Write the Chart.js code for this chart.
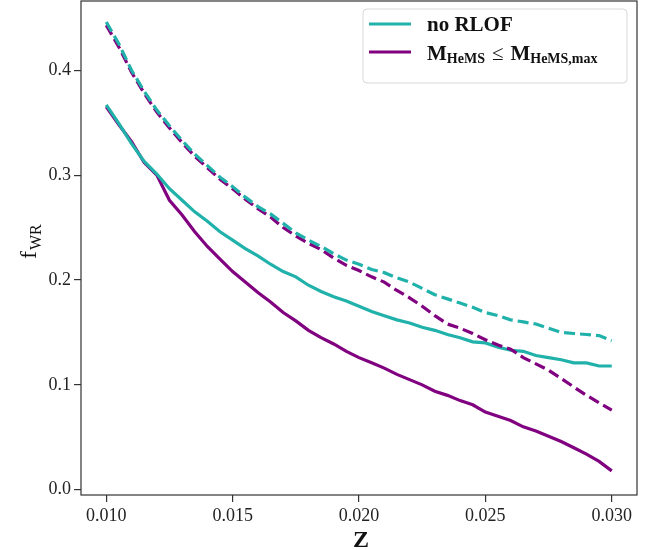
<!DOCTYPE html>
<html>
<head>
<meta charset="utf-8">
<script src="https://cdn.jsdelivr.net/npm/chart.js@4"></script>
<style>
  html, body { margin: 0; padding: 0; background: #fff; }
  #wrap { width: 662px; height: 550px; }
</style>
</head>
<body>
<div id="wrap"><canvas id="myChart" width="662" height="550"></canvas></div>
<script>
// metallicity grid
var zValues = [0.0100, 0.0105, 0.0110, 0.0115, 0.0120, 0.0125, 0.0130, 0.0135, 0.0140, 0.0145,
               0.0150, 0.0155, 0.0160, 0.0165, 0.0170, 0.0175, 0.0180, 0.0185, 0.0190, 0.0195,
               0.0200, 0.0205, 0.0210, 0.0215, 0.0220, 0.0225, 0.0230, 0.0235, 0.0240, 0.0245,
               0.0250, 0.0255, 0.0260, 0.0265, 0.0270, 0.0275, 0.0280, 0.0285, 0.0290, 0.0295, 0.0300];

// no RLOF, solid
var noRlofSolid = [0.367, 0.349, 0.330, 0.313, 0.301, 0.287, 0.276, 0.265, 0.256, 0.246,
                   0.238, 0.230, 0.223, 0.215, 0.208, 0.203, 0.195, 0.189, 0.184, 0.180,
                   0.175, 0.170, 0.166, 0.162, 0.159, 0.155, 0.152, 0.148, 0.145, 0.141,
                   0.140, 0.136, 0.133, 0.132, 0.128, 0.126, 0.124, 0.121, 0.121, 0.118, 0.118];
// M_HeMS <= M_HeMS,max, solid
var heMsSolid = [0.365, 0.348, 0.332, 0.312, 0.300, 0.276, 0.262, 0.246, 0.232, 0.220,
                 0.208, 0.198, 0.188, 0.179, 0.169, 0.161, 0.152, 0.145, 0.139, 0.132,
                 0.126, 0.121, 0.116, 0.110, 0.105, 0.100, 0.094, 0.090, 0.085, 0.081,
                 0.074, 0.070, 0.066, 0.060, 0.056, 0.051, 0.046, 0.040, 0.034, 0.027, 0.018];
// no RLOF, dashed
var noRlofDashed = [0.446, 0.425, 0.400, 0.380, 0.362, 0.347, 0.333, 0.320, 0.309, 0.298,
                    0.289, 0.279, 0.270, 0.263, 0.254, 0.245, 0.238, 0.232, 0.225, 0.219,
                    0.215, 0.210, 0.207, 0.202, 0.198, 0.192, 0.186, 0.182, 0.178, 0.174,
                    0.169, 0.166, 0.162, 0.160, 0.158, 0.154, 0.150, 0.149, 0.148, 0.147, 0.142];
// M_HeMS <= M_HeMS,max, dashed
var heMsDashed = [0.443, 0.422, 0.398, 0.378, 0.360, 0.345, 0.331, 0.318, 0.307, 0.296,
                  0.287, 0.277, 0.268, 0.260, 0.250, 0.242, 0.235, 0.229, 0.221, 0.214,
                  0.209, 0.203, 0.198, 0.190, 0.183, 0.175, 0.166, 0.158, 0.154, 0.149,
                  0.143, 0.138, 0.134, 0.126, 0.120, 0.114, 0.106, 0.098, 0.090, 0.083, 0.076];

var xTickValues = [0.010, 0.015, 0.020, 0.025, 0.030];
var yTickValues = [0.0, 0.1, 0.2, 0.3, 0.4];

var teal = '#20b2aa';
var purple = '#800080';
var serif = '"Liberation Serif", "DejaVu Serif", serif';

function pts(arr) {
    return zValues.map(function (z, i) { return { x: z, y: arr[i] }; });
}

// box around plot + legend + axis labels with subscripts
var decorations = {
    id: 'decorations',
    afterDraw: function (chart) {
        var c = chart.ctx, a = chart.chartArea;
        c.save();
        c.strokeStyle = '#333';
        c.lineWidth = 1.2;
        c.strokeRect(a.left, a.top, a.right - a.left, a.bottom - a.top);

        // legend box
        c.fillStyle = 'rgba(255,255,255,0.9)';
        c.strokeStyle = '#d8d8d8';
        c.lineWidth = 1;
        c.beginPath();
        c.roundRect(363, 9, 264, 74, 4);
        c.fill();
        c.stroke();

        c.lineWidth = 3.2;
        c.strokeStyle = teal;
        c.beginPath(); c.moveTo(369, 24); c.lineTo(411, 24); c.stroke();
        c.strokeStyle = purple;
        c.beginPath(); c.moveTo(369, 52); c.lineTo(411, 52); c.stroke();

        c.fillStyle = '#111';
        c.textBaseline = 'alphabetic';
        c.textAlign = 'left';
        c.font = 'bold 21px ' + serif;
        c.fillText('no RLOF', 427, 31);

        var x = 427, y = 60;
        c.font = 'bold 21px ' + serif;
        c.fillText('M', x, y); x += c.measureText('M').width;
        c.font = 'bold 14px ' + serif;
        c.fillText('HeMS', x, y + 3); x += c.measureText('HeMS').width + 7;
        c.font = '21px ' + serif;
        c.fillText('\u2264', x, y); x += c.measureText('\u2264').width + 7;
        c.font = 'bold 21px ' + serif;
        c.fillText('M', x, y); x += c.measureText('M').width;
        c.font = 'bold 14px ' + serif;
        c.fillText('HeMS,max', x, y + 3);

        // y label f_WR
        c.save();
        c.translate(36, 259);
        c.rotate(-Math.PI / 2);
        c.font = '24px ' + serif;
        c.fillText('f', 0, 0);
        var fw = c.measureText('f').width;
        c.font = '16px ' + serif;
        c.fillText('WR', fw + 1, 5);
        c.restore();

        // x label
        c.font = 'bold 24px ' + serif;
        c.textAlign = 'center';
        c.fillText('Z', (a.left + a.right) / 2 + 2, 547);
        c.restore();
    }
};

var ctx = document.getElementById('myChart').getContext('2d');
var myChart = new Chart(ctx, {
    type: 'line',
    data: {
        datasets: [{
            label: 'no RLOF dashed',
            data: pts(noRlofDashed),
            borderColor: teal,
            borderDash: [11, 5],
            borderWidth: 3.2
        }, {
            label: 'M_HeMS dashed',
            data: pts(heMsDashed),
            borderColor: purple,
            borderDash: [11, 5],
            borderWidth: 3.2
        }, {
            label: 'no RLOF',
            data: pts(noRlofSolid),
            borderColor: teal,
            borderWidth: 3.2
        }, {
            label: 'M_HeMS <= M_HeMS,max',
            data: pts(heMsSolid),
            borderColor: purple,
            borderWidth: 3.2
        }]
    },
    options: {
        responsive: false,
        animation: false,
        layout: { padding: { top: 1, right: 25, left: 0, bottom: 0 } },
        elements: { point: { radius: 0 }, line: { tension: 0, borderCapStyle: 'butt' } },
        scales: {
            x: {
                type: 'linear',
                min: 0.009,
                max: 0.031,
                afterBuildTicks: function (s) { s.ticks = xTickValues.map(function (v) { return { value: v }; }); },
                afterFit: function (s) { s.height = 55; s.paddingLeft = 0; s.paddingRight = 0; },
                ticks: {
                    color: '#222',
                    font: { family: serif, size: 18 },
                    padding: 3,
                    maxRotation: 0,
                    callback: function (v) { return v.toFixed(3); }
                },
                grid: { drawOnChartArea: false, tickLength: 7, color: '#333', lineWidth: 1.2 },
                border: { display: false }
            },
            y: {
                min: -0.005,
                max: 0.466,
                afterBuildTicks: function (s) { s.ticks = yTickValues.map(function (v) { return { value: v }; }); },
                afterFit: function (s) { s.width = 81; s.paddingTop = 0; s.paddingBottom = 0; },
                ticks: {
                    color: '#222',
                    font: { family: serif, size: 18 },
                    padding: 3,
                    callback: function (v) { return v.toFixed(1); }
                },
                grid: { drawOnChartArea: false, tickLength: 7, color: '#333', lineWidth: 1.2 },
                border: { display: false }
            }
        },
        plugins: {
            legend: { display: false },
            tooltip: { enabled: false }
        }
    },
    plugins: [decorations]
});
</script>
</body>
</html>
